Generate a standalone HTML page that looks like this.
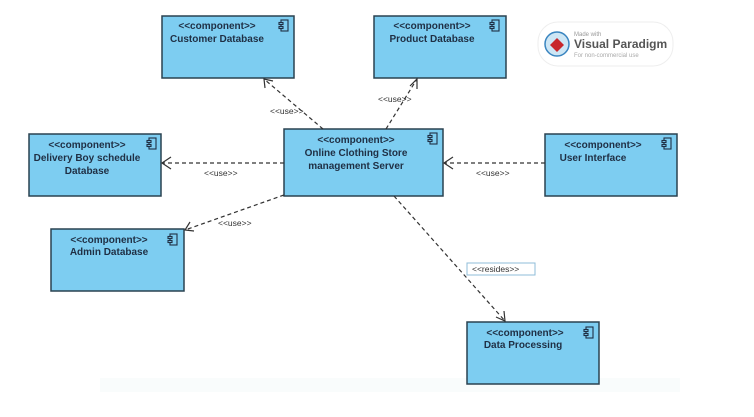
<!DOCTYPE html>
<html><head><meta charset="utf-8"><style>
html,body{margin:0;padding:0;background:#fff;}
svg{display:block;}
.b{fill:#7dcdf1;stroke:#2a4250;stroke-width:1.5;}
.t{font-family:"Liberation Sans",sans-serif;font-size:10px;font-weight:bold;fill:#1f2f44;text-anchor:middle;}
.l{font-family:"Liberation Sans",sans-serif;font-size:8.5px;fill:#333;}
.d{stroke:#333;stroke-width:1.2;stroke-dasharray:4,3;fill:none;}
.a{stroke:#333;stroke-width:1.2;fill:none;}
.ic{fill:none;stroke:#1f2f44;stroke-width:1.1;}
</style></head><body>
<svg width="754" height="417" viewBox="0 0 754 417">
<defs>
<g id="ic"><rect class="ic" x="2" y="0" width="7" height="11"/><rect class="ic" x="0" y="2.5" width="4" height="2" style="fill:#7dcdf1"/><rect class="ic" x="0" y="6.5" width="4" height="2" style="fill:#7dcdf1"/></g>
</defs>
<rect x="100" y="378" width="580" height="14" fill="#f9fcfc"/>
<!-- boxes -->
<rect class="b" x="162" y="16" width="132" height="62"/>
<text class="t" x="217" y="29">&lt;&lt;component&gt;&gt;</text>
<text class="t" x="217" y="42">Customer Database</text>
<use href="#ic" x="279" y="20"/>

<rect class="b" x="374" y="16" width="132" height="62"/>
<text class="t" x="432" y="29">&lt;&lt;component&gt;&gt;</text>
<text class="t" x="432" y="42">Product Database</text>
<use href="#ic" x="490" y="20"/>

<rect class="b" x="284" y="129" width="159" height="67"/>
<text class="t" x="356" y="143">&lt;&lt;component&gt;&gt;</text>
<text class="t" x="356" y="156">Online Clothing Store</text>
<text class="t" x="356" y="169">management Server</text>
<use href="#ic" x="428" y="133"/>

<rect class="b" x="29" y="134" width="132" height="62"/>
<text class="t" x="87" y="148">&lt;&lt;component&gt;&gt;</text>
<text class="t" x="87" y="161">Delivery Boy schedule</text>
<text class="t" x="87" y="174">Database</text>
<use href="#ic" x="147" y="138"/>

<rect class="b" x="545" y="134" width="132" height="62"/>
<text class="t" x="603" y="148">&lt;&lt;component&gt;&gt;</text>
<text class="t" x="593" y="161">User Interface</text>
<use href="#ic" x="662" y="138"/>

<rect class="b" x="51" y="229" width="133" height="62"/>
<text class="t" x="109" y="243">&lt;&lt;component&gt;&gt;</text>
<text class="t" x="109" y="255">Admin Database</text>
<use href="#ic" x="168" y="234"/>

<rect class="b" x="467" y="322" width="132" height="62"/>
<text class="t" x="525" y="336">&lt;&lt;component&gt;&gt;</text>
<text class="t" x="523" y="348">Data Processing</text>
<use href="#ic" x="584" y="327"/>

<!-- connectors -->
<line class="d" x1="323" y1="129" x2="264" y2="79"/>
<polyline class="a" points="265,88 264,79 273,81"/>
<text class="l" x="270" y="114">&lt;&lt;use&gt;&gt;</text>

<line class="d" x1="386" y1="129" x2="417" y2="79"/>
<polyline class="a" points="410,86 417,79 417,89"/>
<text class="l" x="378" y="102">&lt;&lt;use&gt;&gt;</text>

<line class="d" x1="284" y1="163" x2="162" y2="163"/>
<polyline class="a" points="171,157 162,163 171,169"/>
<text class="l" x="204" y="176">&lt;&lt;use&gt;&gt;</text>

<line class="d" x1="545" y1="163" x2="444" y2="163"/>
<polyline class="a" points="453,157 444,163 453,169"/>
<text class="l" x="476" y="176">&lt;&lt;use&gt;&gt;</text>

<line class="d" x1="284" y1="195" x2="185" y2="230"/>
<polyline class="a" points="190,222 185,230 194,231"/>
<text class="l" x="218" y="226">&lt;&lt;use&gt;&gt;</text>

<line class="d" x1="394" y1="196" x2="505" y2="321"/>
<polyline class="a" points="496,317 505,321 504,311"/>
<rect x="467" y="263" width="68" height="12" fill="#fff" stroke="#8fbcd8" stroke-width="1"/>
<text class="l" x="472" y="272">&lt;&lt;resides&gt;&gt;</text>

<!-- logo -->
<rect x="538" y="22" width="135" height="44" rx="20" fill="#fff" stroke="#eee"/>
<circle cx="557" cy="44" r="12" fill="#cde6f5" stroke="#3a85c0" stroke-width="1.5"/>
<path d="M557,38 l7,7 -7,7 -7,-7z" fill="#c8262b"/>
<text x="574" y="36" font-family="Liberation Sans,sans-serif" font-size="6" fill="#999">Made with</text>
<text x="574" y="48" font-family="Liberation Sans,sans-serif" font-size="12" font-weight="bold" fill="#555">Visual Paradigm</text>
<text x="574" y="57" font-family="Liberation Sans,sans-serif" font-size="6" fill="#aaa">For non-commercial use</text>
</svg>
</body></html>
